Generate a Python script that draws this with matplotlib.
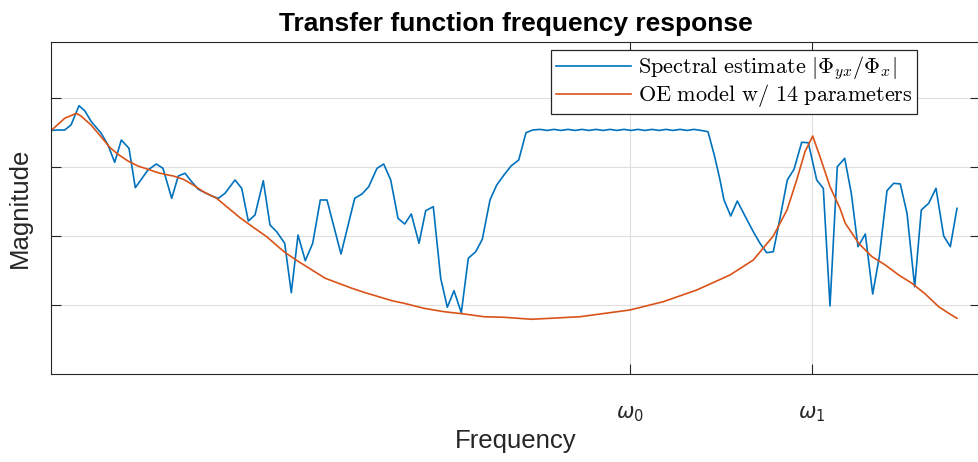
import matplotlib
matplotlib.use("Agg")
import matplotlib.pyplot as plt
from matplotlib.font_manager import FontProperties

# ---- data (frequency in arbitrary bins, magnitude in arbitrary dB-like units) ----
spec_freq = [0, 7, 13.7, 20, 28, 33.7, 40.3, 50, 57, 63.7, 70.3, 78, 84.3, 97, 105.3, 112,
             120.7, 127.3, 134, 140.7, 147.3, 154, 160.7, 167.3, 174, 184, 190.7, 197.3, 204,
             212.3, 219, 225.7, 233.7, 240.3, 247, 254.3, 261.7, 269.3, 276, 290, 303.7, 311,
             317.7, 326, 332.7, 339.7, 347, 353.7, 360.3, 368, 374.7, 382.3, 389.7, 396.3, 403,
             410.3, 417.3, 424.7, 431.3, 439, 445.7, 453, 460, 467.7, 475, 481.7,
             489, 496, 503, 510, 517, 524, 531, 538, 545, 552, 559, 566, 573, 580, 587, 594,
             601, 608, 615, 622, 629, 636, 643, 650,
             657, 663.7, 669, 673, 679.7, 686.3, 694, 702.3, 709, 715.7, 722.3, 729, 736.3,
             743, 750.7, 757.3, 765.7, 772.3, 779, 786.3, 793.7, 800.3, 807, 814.3, 821.7,
             828.3, 836, 842.7, 849.3, 856, 863.7, 870.3, 877.7, 885, 892.7, 899.3, 906]
spec_mag = [35.29, 35.36, 35.36, 36.09, 38.88, 38.16, 36.57, 34.93, 33.19, 30.68, 33.91, 32.71,
            27.00, 29.57, 30.43, 29.81, 25.46, 28.70, 29.09, 27.87, 26.77, 26.28, 25.80, 25.46,
            26.19, 28.12, 26.91, 22.17, 23.04, 28.01, 21.59, 20.62, 18.94, 11.78, 20.14, 16.42,
            18.94, 25.22, 25.22, 17.39, 25.46, 26.09, 27.14, 29.81, 30.43, 28.12, 22.57, 21.74,
            23.19, 18.94, 23.67, 24.25, 13.87, 9.67, 12.07, 8.88, 16.77, 17.72, 19.52, 25.22,
            27.39, 28.84, 30.14, 31.01, 34.97, 35.36,
            35.45, 35.30, 35.45, 35.30, 35.45, 35.30, 35.45, 35.30, 35.45, 35.30, 35.45, 35.30,
            35.45, 35.30, 35.45, 35.30, 35.45, 35.30, 35.45, 35.30, 35.45, 35.30, 35.45, 35.30,
            35.12, 31.49, 28.12, 25.22, 22.90, 25.07, 22.90, 20.62, 18.94, 17.58, 17.72, 22.57,
            28.12, 29.67, 33.58, 33.52, 28.12, 26.91, 9.86, 30.04, 31.26, 26.19, 18.45, 20.29,
            11.59, 17.00, 26.57, 27.64, 27.54, 23.29, 12.65, 23.77, 24.74, 26.91, 20.00, 18.45,
            24.01]

model_freq = [0, 13.7, 25.3, 30, 40, 50, 58.7, 67, 77, 87, 97, 107, 117, 122.3, 132.3, 142.3,
              152.3, 165.7, 175.7, 189, 202.3, 215.7, 229, 234.3, 247.7, 261, 274.3, 287.7, 301,
              314.3, 327.7, 341, 353, 373, 393, 413, 433, 453, 480.7, 529, 579, 612.3, 645.7,
              679, 702.3, 722.3, 736, 745.7, 754, 761.7, 769, 779, 789, 794.3, 807.7, 821,
              834.3, 847.7, 861, 874.3, 887.7, 897.7, 906]
model_mag = [35.26, 37.06, 37.78, 37.39, 36.09, 34.39, 32.86, 31.84, 30.87, 30.14, 29.67, 29.17,
             28.84, 28.70, 28.22, 27.39, 26.42, 25.46, 24.25, 22.65, 21.26, 19.90, 18.22, 17.58,
             16.28, 15.07, 13.87, 13.14, 12.42, 11.78, 11.20, 10.62, 10.25, 9.52, 9.03, 8.70,
             8.30, 8.22, 7.93, 8.30, 9.28, 10.48, 12.17, 14.35, 16.52, 20.00, 23.77, 28.12,
             32.22, 34.49, 31.49, 27.14, 24.01, 21.84, 18.94, 17.00, 15.80, 14.35, 13.14, 11.59,
             9.75, 8.80, 8.07]

xtick_pos = [579, 761]
xtick_labels = [r'$\omega_0$', r'$\omega_1$']
ytick_pos = [10, 20, 30, 40]

spec_label = r'$\mathrm{Spectral\ estimate}\ |\Phi_{yx}/\Phi_x|$'
model_label = r'$\mathrm{OE\ model\ w/\ 14\ parameters}$'

# ---- figure ----
plt.rcParams['font.family'] = ['Liberation Sans', 'DejaVu Sans']
fig = plt.figure(figsize=(9.79, 4.62), dpi=100, facecolor='white')
ax = fig.add_axes([51/979, 1 - 374/462, 929/979, 332/462])

dark = '#262626'
ax.plot(spec_freq, spec_mag, color='#0072BD', lw=1.2, label=spec_label)
ax.plot(model_freq, model_mag, color='#D95319', lw=1.2, label=model_label)

ax.set_xlim(0, 929)
ax.set_ylim(0, 332/6.9)
ax.set_xticks(xtick_pos)
ax.set_xticklabels(xtick_labels)
ax.set_yticks(ytick_pos)
ax.set_yticklabels([])
for lab in ax.get_xticklabels():
    lab.set_math_fontfamily('dejavusans')

ax.tick_params(direction='in', length=7, width=0.8, colors=dark, labelsize=15,
               top=True, right=True, pad=22)
ax.grid(True, color='#dfdfdf', lw=0.8)
ax.set_axisbelow(True)
for s in ax.spines.values():
    s.set_color(dark)
    s.set_linewidth(0.8)

ax.set_title('Transfer function frequency response', fontsize=19, fontweight='bold',
             color='black', pad=8)
ax.set_xlabel('Frequency', fontsize=18.5, color=dark)
ax.set_ylabel('Magnitude', fontsize=18.5, color=dark)
ax.xaxis.set_label_coords(0.5, -0.165)
ax.yaxis.set_label_coords(-0.021, 0.5)

lp = FontProperties(size=16, math_fontfamily='cm')
leg = ax.legend(loc='upper right', bbox_to_anchor=((917 - 51)/929, (374 - 50)/332),
                borderaxespad=0, prop=lp, fancybox=False, framealpha=1,
                edgecolor=dark, handlelength=3.4, handletextpad=0.3,
                borderpad=0.2, labelspacing=0.0)
leg.get_frame().set_linewidth(0.9)

fig.savefig('out.png', dpi=100, facecolor='white')
